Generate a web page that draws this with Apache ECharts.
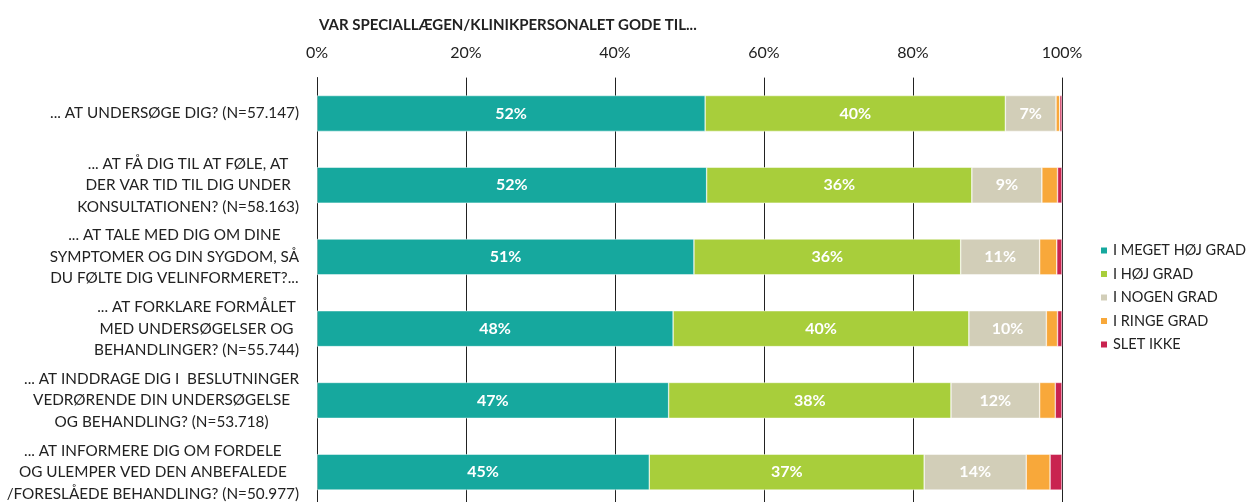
<!DOCTYPE html>
<html>
<head>
<meta charset="utf-8">
<script src="https://cdn.jsdelivr.net/npm/echarts@6/dist/echarts.min.js"></script>
<style>
  html, body { margin: 0; padding: 0; background: #fff; }
  #chart { width: 1249px; height: 502px; }
</style>
</head>
<body>
<div id="chart"></div>
<script>
// spørgsmål (hver linje som i originalen)
const categories = [
    ['... AT UNDERSØGE DIG? (N=57.147)'],
    ['... AT FÅ DIG TIL AT FØLE, AT', 'DER VAR TID TIL DIG UNDER', 'KONSULTATIONEN? (N=58.163)'],
    ['... AT TALE MED DIG OM DINE', 'SYMPTOMER OG DIN SYGDOM, SÅ', 'DU FØLTE DIG VELINFORMERET?...'],
    ['... AT FORKLARE FORMÅLET', 'MED UNDERSØGELSER OG', 'BEHANDLINGER? (N=55.744)'],
    ['... AT INDDRAGE DIG I  BESLUTNINGER', 'VEDRØRENDE DIN UNDERSØGELSE', 'OG BEHANDLING? (N=53.718)'],
    ['... AT INFORMERE DIG OM FORDELE', 'OG ULEMPER VED DEN ANBEFALEDE', '/FORESLÅEDE BEHANDLING? (N=50.977)']
];
const seriesNames = ['I MEGET HØJ GRAD', 'I HØJ GRAD', 'I NOGEN GRAD', 'I RINGE GRAD', 'SLET IKKE'];
const megetHoj = [52.1, 52.3, 50.6, 47.8, 47.2, 44.6];
const hoj      = [40.3, 35.6, 35.8, 39.7, 37.9, 36.9];
const nogen    = [6.8, 9.4, 10.6, 10.4, 11.9, 13.7];
const ringe    = [0.5, 2.1, 2.3, 1.5, 2.1, 3.2];
const sletIkke = [0.3, 0.6, 0.7, 0.6, 0.9, 1.6];
const xTicks = [0, 20, 40, 60, 80, 100];

const colors = ['#16A89E', '#A8CE3B', '#D2CEB8', '#F8A83A', '#C92350'];
const fontFam = 'Lato';

const chart = echarts.init(document.getElementById('chart'));

const allData = [megetHoj, hoj, nogen, ringe, sletIkke];
const series = allData.map((d, i) => ({
    name: seriesNames[i],
    type: 'bar',
    stack: 'total',
    barWidth: '50%',
    data: d,
    itemStyle: { color: colors[i], borderColor: '#fff', borderWidth: 0.5 },
    label: {
        show: i < 3,
        position: 'inside',
        color: '#fff',
        fontWeight: 'bold',
        fontSize: 16,
        fontFamily: fontFam,
        formatter: p => Math.round(p.value) + '%'
    }
}));

const option = {
    animation: false,
    textStyle: { fontFamily: fontFam },
    title: {
        text: 'VAR SPECIALLÆGEN/KLINIKPERSONALET GODE TIL...',
        left: 314,
        top: 13,
        textStyle: { fontSize: 15, fontWeight: 'bold', color: '#222', fontFamily: fontFam }
    },
    legend: {
        orient: 'vertical',
        left: 1094,
        top: 238,
        itemWidth: 8,
        itemHeight: 8,
        itemGap: 8.5,
        icon: 'rect',
        textStyle: { fontSize: 14.5, color: '#222', fontFamily: fontFam },
        data: seriesNames
    },
    grid: {
        left: 317,
        right: 187,
        top: 77.6,
        bottom: -6,
        containLabel: false,
        outerBoundsMode: 'none'
    },
    xAxis: {
        type: 'value',
        position: 'top',
        min: xTicks[0],
        max: xTicks[xTicks.length - 1],
        interval: 20,
        axisLine: { show: false },
        axisTick: { show: false },
        axisLabel: {
            formatter: '{value}%',
            fontSize: 16,
            color: '#222',
            margin: 17,
            fontFamily: fontFam
        },
        splitLine: { show: true, lineStyle: { color: '#222', width: 1 } }
    },
    yAxis: {
        type: 'category',
        inverse: true,
        data: categories.map(c => c.join('\n')),
        axisTick: { show: false },
        axisLine: { show: true, lineStyle: { color: '#222', width: 1 } },
        axisLabel: {
            margin: 18,
            fontSize: 15.3,
            color: '#222',
            lineHeight: 21.5,
            fontFamily: fontFam,
            formatter: v => v.split('\n').map(l => '{c|' + l + '}').join('\n'),
            rich: {
                c: { align: 'center', fontSize: 15.3, lineHeight: 21.5, color: '#222', fontFamily: fontFam }
            }
        }
    },
    series: series
};

chart.setOption(option);
</script>
</body>
</html>
